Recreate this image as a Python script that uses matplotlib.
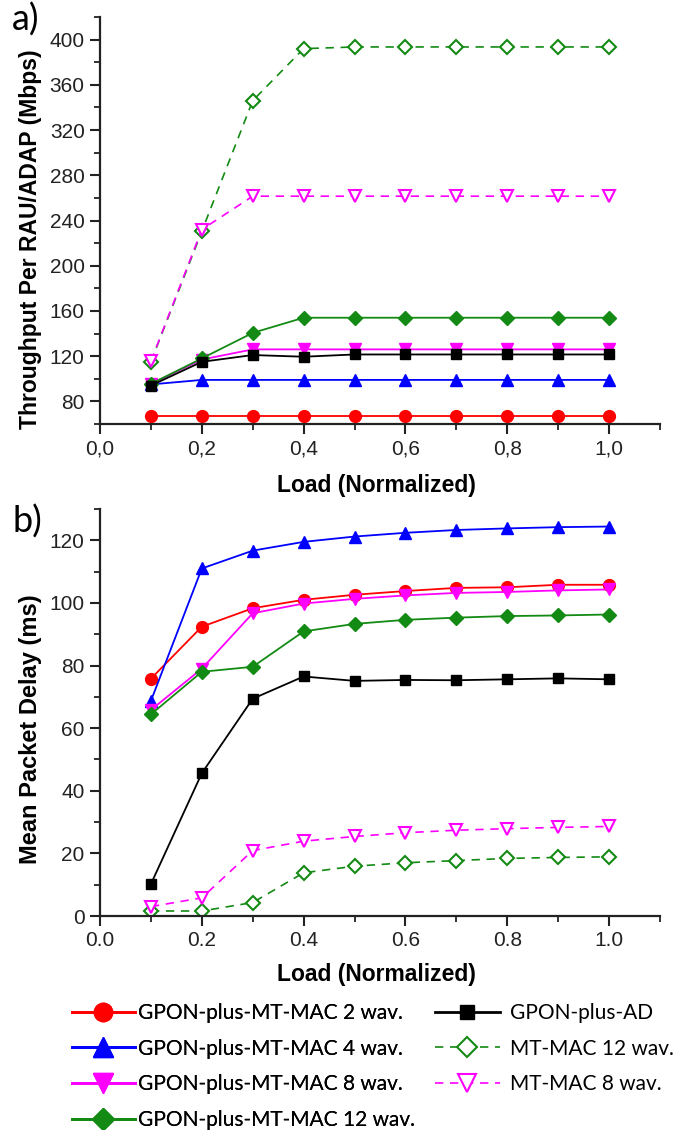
import matplotlib
matplotlib.use("Agg")
import matplotlib.pyplot as plt
from matplotlib.ticker import MultipleLocator

# data
load = [0.1, 0.2, 0.3, 0.4, 0.5, 0.6, 0.7, 0.8, 0.9, 1.0]

# a) throughput per RAU/ADAP (Mbps)
thr_gpon2 = [67.5, 67.5, 67.5, 67.5, 67.5, 67.5, 67.5, 67.5, 67.5, 67.5]
thr_gpon4 = [95, 99, 99, 99, 99, 99, 99, 99, 99, 99]
thr_gpon8 = [95.5, 117, 126, 126, 126, 126, 126, 126, 126, 126]
thr_gpon12 = [95.5, 118, 140.6, 154, 154, 154, 154, 154, 154, 154]
thr_ad = [94, 115, 121, 119.5, 121.5, 121.5, 121.5, 121.5, 121.5, 121.5]
thr_mt12 = [115, 230.5, 346, 392, 393.5, 393.5, 393.5, 393.5, 393.5, 393.5]
thr_mt8 = [115.5, 232, 261.5, 261.5, 261.5, 261.5, 261.5, 261.5, 261.5, 261.5]

# b) mean packet delay (ms)
del_gpon2 = [75.8, 92.4, 98.3, 101.0, 102.6, 103.8, 104.8, 105.0, 105.8, 105.8]
del_gpon4 = [68.7, 111.0, 116.7, 119.5, 121.2, 122.4, 123.3, 123.8, 124.2, 124.4]
del_gpon8 = [65.8, 79.0, 96.7, 99.8, 101.3, 102.4, 103.2, 103.5, 104.0, 104.3]
del_gpon12 = [64.4, 78.0, 79.6, 90.9, 93.3, 94.6, 95.3, 95.8, 96.0, 96.3]
del_ad = [10.2, 45.6, 69.4, 76.5, 75.1, 75.4, 75.3, 75.6, 75.9, 75.6]
del_mt12 = [1.6, 1.6, 4.3, 13.8, 15.9, 17.0, 17.7, 18.4, 18.7, 18.9]
del_mt8 = [3.0, 5.8, 20.9, 23.9, 25.4, 26.6, 27.4, 27.9, 28.3, 28.6]

labels = ["GPON-plus-MT-MAC 2 wav.", "GPON-plus-MT-MAC 4 wav.",
          "GPON-plus-MT-MAC 8 wav.", "GPON-plus-MT-MAC 12 wav.",
          "GPON-plus-AD", "MT-MAC 12 wav.", "MT-MAC 8 wav."]

RED = "#ff0000"
BLUE = "#0000ff"
MAG = "#ff00ff"
GREEN = "#138a13"
BLACK = "#000000"

plt.rcParams["font.family"] = ["Liberation Sans", "DejaVu Sans"]

W, H = 694, 1130
fig = plt.figure(figsize=(W / 100, H / 100), dpi=100)


def style_axes(ax, ymin, ymax, ymaj, ymin_step, dec):
    ax.set_xlim(0, 1.1)
    ax.set_ylim(ymin, ymax)
    ax.spines["top"].set_visible(False)
    ax.spines["right"].set_visible(False)
    for s in ("left", "bottom"):
        ax.spines[s].set_linewidth(1.6)
        ax.spines[s].set_color("#222222")
    ax.xaxis.set_major_locator(MultipleLocator(0.2))
    ax.xaxis.set_minor_locator(MultipleLocator(0.1))
    ax.yaxis.set_major_locator(MultipleLocator(ymaj))
    ax.yaxis.set_minor_locator(MultipleLocator(ymin_step))
    ax.xaxis.set_major_formatter(plt.FuncFormatter(lambda v, p: f"{v:.1f}".replace(".", dec)))
    ax.tick_params(which="major", direction="out", length=7, width=1.5,
                   labelsize=15, colors="#222222", pad=4)
    ax.tick_params(which="minor", direction="out", length=4, width=1.3,
                   colors="#222222")


def draw(ax, series):
    gpon2, gpon4, gpon8, gpon12, ad, mt12, mt8 = series
    h = []
    h += ax.plot(load, gpon2, "-", color=RED, lw=1.3, marker="o", ms=8.5, mec=RED)
    h += ax.plot(load, gpon4, "-", color=BLUE, lw=1.3, marker="^", ms=9, mec=BLUE)
    h += ax.plot(load, gpon8, "-", color=MAG, lw=1.3, marker="v", ms=9, mec=MAG)
    h += ax.plot(load, gpon12, "-", color=GREEN, lw=1.3, marker="D", ms=7.5, mec=GREEN)
    h += ax.plot(load, ad, "-", color=BLACK, lw=1.3, marker="s", ms=7, mec=BLACK)
    h += ax.plot(load, mt12, "--", color=GREEN, lw=1.2, marker="D", ms=7.5,
                 mfc="white", mec=GREEN, mew=1.5, dashes=(5, 4))
    h += ax.plot(load, mt8, "--", color=MAG, lw=1.2, marker="v", ms=9,
                 mfc="white", mec=MAG, mew=1.5, dashes=(5, 4))
    return h


# panel a
ax_a = fig.add_axes([100 / W, 1 - 424 / H, 560 / W, 407 / H])
style_axes(ax_a, 60, 420, 40, 20, ",")
draw(ax_a, [thr_gpon2, thr_gpon4, thr_gpon8, thr_gpon12, thr_ad, thr_mt12, thr_mt8])
ax_a.set_ylabel("Throughput Per RAU/ADAP (Mbps)", fontsize=16.5, fontweight="bold")
ax_a.yaxis.set_label_coords(-0.103, 0.455)
ax_a.set_xlabel("Load (Normalized)", fontsize=16.5, fontweight="bold")
ax_a.xaxis.set_label_coords(0.493, -0.122)

# panel b
ax_b = fig.add_axes([100 / W, 1 - 916 / H, 560 / W, 407 / H])
style_axes(ax_b, 0, 130, 20, 10, ".")
handles = draw(ax_b, [del_gpon2, del_gpon4, del_gpon8, del_gpon12, del_ad, del_mt12, del_mt8])
ax_b.set_ylabel("Mean Packet Delay (ms)", fontsize=17, fontweight="bold")
ax_b.yaxis.set_label_coords(-0.103, 0.46)
ax_b.set_xlabel("Load (Normalized)", fontsize=16.5, fontweight="bold")
ax_b.xaxis.set_label_coords(0.493, -0.115)

fig.text(12 / W, 1 - 20 / H, "a)", fontsize=26, family=["Lato", "DejaVu Sans"],
         va="center", ha="left")
fig.text(12 / W, 1 - 522 / H, "b)", fontsize=26, family=["Lato", "DejaVu Sans"],
         va="center", ha="left")

# legend, two blocks like the original
leg_font = {"family": ["Lato", "DejaVu Sans"], "size": 15}
leg1 = fig.legend(handles[:4], labels[:4], loc="upper left",
                  bbox_to_anchor=(72 / W, 1 - 1003 / H), frameon=False,
                  prop=leg_font, handlelength=3.0, handletextpad=0.15,
                  labelspacing=0.75, markerscale=1.55, borderpad=0,
                  borderaxespad=0)
for ln in leg1.get_lines():
    ln.set_linewidth(2)
leg2 = fig.legend(handles[4:], labels[4:], loc="upper left",
                  bbox_to_anchor=(435 / W, 1 - 1003 / H), frameon=False,
                  prop=leg_font, handlelength=3.1, handletextpad=0.5,
                  labelspacing=0.75, markerscale=1.4, borderpad=0,
                  borderaxespad=0)
for ln in leg2.get_lines()[:1]:
    ln.set_linewidth(2)
fig.add_artist(leg1)

fig.savefig("out.png", dpi=100)
